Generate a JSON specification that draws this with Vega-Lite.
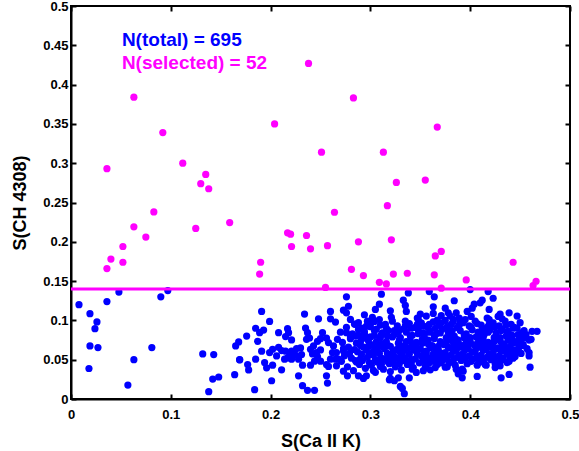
{
"$schema":"https://vega.github.io/schema/vega-lite/v6.json",
"width":499,"height":393,
"autosize":{"type":"none"},
"padding":{"left":71,"top":6,"right":9,"bottom":52},
"background":"white",
"config":{
 "view":{"stroke":"black","strokeWidth":2},
 "axis":{"domainColor":"black","domainWidth":2,"tickColor":"black","tickWidth":2,"tickSize":-5,"grid":false,"labelFont":"Liberation Sans","labelFontWeight":"bold","labelFontSize":13,"labelColor":"black","titleFont":"Liberation Sans","titleFontWeight":"bold","titleFontSize":18,"titleColor":"black","labelFlush":false,"labelOverlap":false,"format":"~g"}
},
"datasets":{
"total":[
{"x":0.008,"y":0.120},{"x":0.019,"y":0.1085},{"x":0.026,"y":0.098},{"x":0.024,"y":0.0895},{"x":0.019,"y":0.0675},{"x":0.027,"y":0.0654},{"x":0.018,"y":0.0388},{"x":0.036,"y":0.124},{"x":0.048,"y":0.136},{"x":0.063,"y":0.050},{"x":0.057,"y":0.0177},{"x":0.081,"y":0.0654},{"x":0.090,"y":0.130},{"x":0.097,"y":0.138},{"x":0.132,"y":0.0574},{"x":0.143,"y":0.0565},{"x":0.142,"y":0.0253},{"x":0.148,"y":0.028},{"x":0.138,"y":0.0093},{"x":0.164,"y":0.031},{"x":0.165,"y":0.0675},{"x":0.168,"y":0.0726},{"x":0.169,"y":0.050},{"x":0.176,"y":0.080},{"x":0.177,"y":0.0439},{"x":0.178,"y":0.037},{"x":0.184,"y":0.0118},{"x":0.185,"y":0.090},
{"x":0.191,"y":0.1114},{"x":0.199,"y":0.0987},{"x":0.193,"y":0.0877},{"x":0.189,"y":0.0844},{"x":0.187,"y":0.0734},{"x":0.208,"y":0.0844},{"x":0.217,"y":0.0895},{"x":0.218,"y":0.0844},{"x":0.215,"y":0.0794},{"x":0.221,"y":0.0751},{"x":0.234,"y":0.108},{"x":0.248,"y":0.102},{"x":0.260,"y":0.1114},{"x":0.260,"y":0.102},{"x":0.265,"y":0.0979},{"x":0.235,"y":0.0903},{"x":0.237,"y":0.0844},{"x":0.239,"y":0.0776},{"x":0.236,"y":0.0759},{"x":0.252,"y":0.0844},{"x":0.250,"y":0.0768},{"x":0.247,"y":0.0734},{"x":0.256,"y":0.0776},{"x":0.258,"y":0.0718},{"x":0.202,"y":0.0633},{"x":0.199,"y":0.0591},{"x":0.208,"y":0.0658},{"x":0.211,"y":0.0616},{"x":0.206,"y":0.0548},{"x":0.191,"y":0.0608},{"x":0.169,"y":0.0498},{"x":0.185,"y":0.0506},{"x":0.194,"y":0.0464},{"x":0.196,"y":0.0396},{"x":0.202,"y":0.043},{"x":0.211,"y":0.0371},
{"x":0.214,"y":0.0506},{"x":0.217,"y":0.0523},{"x":0.221,"y":0.0506},{"x":0.225,"y":0.0557},{"x":0.228,"y":0.0506},{"x":0.231,"y":0.0565},{"x":0.230,"y":0.065},{"x":0.226,"y":0.0642},{"x":0.221,"y":0.0608},{"x":0.219,"y":0.0582},{"x":0.215,"y":0.0608},
{"x":0.232,"y":0.043},{"x":0.240,"y":0.043},{"x":0.228,"y":0.0295},{"x":0.232,"y":0.0169},{"x":0.237,"y":0.011},{"x":0.244,"y":0.011},{"x":0.201,"y":0.0232},
{"x":0.247,"y":0.054},{"x":0.244,"y":0.0481},{"x":0.250,"y":0.0481},{"x":0.256,"y":0.0439},{"x":0.260,"y":0.0506},{"x":0.258,"y":0.0414},{"x":0.256,"y":0.0295},{"x":0.257,"y":0.0203},
{"x":0.240,"y":0.0633},{"x":0.243,"y":0.0675},{"x":0.246,"y":0.0591},{"x":0.250,"y":0.0624},{"x":0.242,"y":0.0574},
{"x":0.263,"y":0.0675},{"x":0.266,"y":0.0591},{"x":0.265,"y":0.0506},{"x":0.267,"y":0.0759},{"x":0.266,"y":0.0422},
{"x":0.276,"y":0.130},{"x":0.311,"y":0.1333},{"x":0.338,"y":0.135},{"x":0.359,"y":0.1367},{"x":0.273,"y":0.113},{"x":0.276,"y":0.1097},{"x":0.278,"y":0.118},{"x":0.294,"y":0.1072},{"x":0.305,"y":0.1139},{"x":0.309,"y":0.1206},{"x":0.320,"y":0.1122},{"x":0.333,"y":0.1257},{"x":0.335,"y":0.119},{"x":0.336,"y":0.1114},{"x":0.350,"y":0.108},{"x":0.348,"y":0.1013},{"x":0.356,"y":0.1055},{"x":0.363,"y":0.1089},{"x":0.367,"y":0.1004},{"x":0.353,"y":0.0928},{"x":0.302,"y":0.1038},{"x":0.304,"y":0.0987},{"x":0.300,"y":0.0962},{"x":0.296,"y":0.0928},{"x":0.280,"y":0.1013},{"x":0.284,"y":0.0953},{"x":0.288,"y":0.0971},{"x":0.291,"y":0.0903},{"x":0.262,"y":0.0591},{"x":0.268,"y":0.0506},{"x":0.273,"y":0.0642},{"x":0.276,"y":0.0844},{"x":0.280,"y":0.0768},{"x":0.285,"y":0.0801},{"x":0.290,"y":0.0726},{"x":0.294,"y":0.0801},
{"x":0.273,"y":0.0354},{"x":0.277,"y":0.0295},{"x":0.288,"y":0.0295},{"x":0.293,"y":0.0262},{"x":0.296,"y":0.0295},{"x":0.303,"y":0.0363},{"x":0.310,"y":0.0414},{"x":0.320,"y":0.0262},{"x":0.328,"y":0.027},{"x":0.339,"y":0.027},{"x":0.330,"y":0.016},{"x":0.334,"y":0.0068},{"x":0.342,"y":0.038},{"x":0.346,"y":0.0338},{"x":0.356,"y":0.0397},{"x":0.360,"y":0.0371},{"x":0.366,"y":0.0464},{"x":0.319,"y":0.0244},{"x":0.324,"y":0.0232},{"x":0.332,"y":0.0135},
{"x":0.400,"y":0.1392},{"x":0.418,"y":0.1367},{"x":0.364,"y":0.130},{"x":0.384,"y":0.125},{"x":0.363,"y":0.1173},{"x":0.375,"y":0.1156},{"x":0.378,"y":0.1097},{"x":0.404,"y":0.1206},{"x":0.402,"y":0.1156},{"x":0.397,"y":0.1114},{"x":0.412,"y":0.1257},{"x":0.410,"y":0.1223},{"x":0.423,"y":0.1282},{"x":0.419,"y":0.1139},{"x":0.430,"y":0.108},{"x":0.439,"y":0.1097},{"x":0.447,"y":0.1055},{"x":0.432,"y":0.1021},{"x":0.380,"y":0.1055},{"x":0.383,"y":0.1013},{"x":0.386,"y":0.1097},{"x":0.390,"y":0.0971},{"x":0.417,"y":0.1029},{"x":0.450,"y":0.0971},{"x":0.447,"y":0.0903},{"x":0.452,"y":0.0844},{"x":0.455,"y":0.0776},{"x":0.462,"y":0.0861},{"x":0.467,"y":0.0861},{"x":0.461,"y":0.0759},{"x":0.459,"y":0.0591},{"x":0.459,"y":0.0548},{"x":0.460,"y":0.0405},{"x":0.440,"y":0.0523},{"x":0.437,"y":0.0464},{"x":0.441,"y":0.0591},{"x":0.439,"y":0.0312},{"x":0.431,"y":0.027},{"x":0.407,"y":0.0287},{"x":0.386,"y":0.038},{"x":0.388,"y":0.032},{"x":0.392,"y":0.027},{"x":0.393,"y":0.0354},{"x":0.375,"y":0.0405},{"x":0.410,"y":0.0473},{"x":0.416,"y":0.043},{"x":0.425,"y":0.0447},{"x":0.430,"y":0.0422},{"x":0.362,"y":0.0515},{"x":0.366,"y":0.0574},{"x":0.453,"y":0.0692},{"x":0.449,"y":0.080},
{"x":0.271,"y":0.048},{"x":0.273,"y":0.061},{"x":0.272,"y":0.072},{"x":0.270,"y":0.085},{"x":0.274,"y":0.055},
{"x":0.277,"y":0.041},{"x":0.279,"y":0.058},{"x":0.278,"y":0.066},{"x":0.280,"y":0.079},{"x":0.276,"y":0.091},{"x":0.281,"y":0.052},
{"x":0.283,"y":0.036},{"x":0.285,"y":0.049},{"x":0.284,"y":0.063},{"x":0.286,"y":0.071},{"x":0.282,"y":0.083},{"x":0.285,"y":0.095},
{"x":0.289,"y":0.044},{"x":0.291,"y":0.057},{"x":0.290,"y":0.068},{"x":0.292,"y":0.077},{"x":0.288,"y":0.088},{"x":0.290,"y":0.051},
{"x":0.295,"y":0.039},{"x":0.297,"y":0.053},{"x":0.296,"y":0.062},{"x":0.298,"y":0.074},{"x":0.294,"y":0.086},{"x":0.297,"y":0.099},{"x":0.299,"y":0.046},
{"x":0.301,"y":0.043},{"x":0.303,"y":0.056},{"x":0.302,"y":0.069},{"x":0.304,"y":0.081},{"x":0.300,"y":0.092},{"x":0.303,"y":0.061},{"x":0.305,"y":0.034},
{"x":0.307,"y":0.047},{"x":0.309,"y":0.058},{"x":0.308,"y":0.066},{"x":0.310,"y":0.078},{"x":0.306,"y":0.089},{"x":0.309,"y":0.101},{"x":0.311,"y":0.052},
{"x":0.313,"y":0.038},{"x":0.315,"y":0.051},{"x":0.314,"y":0.064},{"x":0.316,"y":0.073},{"x":0.312,"y":0.084},{"x":0.315,"y":0.095},{"x":0.317,"y":0.058},
{"x":0.319,"y":0.045},{"x":0.321,"y":0.054},{"x":0.320,"y":0.067},{"x":0.322,"y":0.079},{"x":0.318,"y":0.087},{"x":0.321,"y":0.104},{"x":0.323,"y":0.061},{"x":0.320,"y":0.035},
{"x":0.325,"y":0.041},{"x":0.327,"y":0.052},{"x":0.326,"y":0.063},{"x":0.328,"y":0.071},{"x":0.324,"y":0.082},{"x":0.327,"y":0.093},{"x":0.329,"y":0.075},
{"x":0.331,"y":0.037},{"x":0.333,"y":0.049},{"x":0.332,"y":0.059},{"x":0.334,"y":0.068},{"x":0.330,"y":0.078},{"x":0.333,"y":0.089},{"x":0.335,"y":0.099},{"x":0.332,"y":0.055},
{"x":0.337,"y":0.044},{"x":0.339,"y":0.057},{"x":0.338,"y":0.065},{"x":0.340,"y":0.074},{"x":0.336,"y":0.085},{"x":0.339,"y":0.096},{"x":0.341,"y":0.050},
{"x":0.343,"y":0.040},{"x":0.345,"y":0.051},{"x":0.344,"y":0.062},{"x":0.346,"y":0.072},{"x":0.342,"y":0.081},{"x":0.345,"y":0.091},{"x":0.347,"y":0.103},{"x":0.344,"y":0.067},
{"x":0.349,"y":0.046},{"x":0.351,"y":0.055},{"x":0.350,"y":0.064},{"x":0.352,"y":0.076},{"x":0.348,"y":0.088},{"x":0.351,"y":0.097},{"x":0.353,"y":0.036},
{"x":0.355,"y":0.042},{"x":0.357,"y":0.053},{"x":0.356,"y":0.061},{"x":0.358,"y":0.070},{"x":0.354,"y":0.080},{"x":0.357,"y":0.092},{"x":0.359,"y":0.085},{"x":0.356,"y":0.058},
{"x":0.361,"y":0.048},{"x":0.363,"y":0.057},{"x":0.362,"y":0.068},{"x":0.364,"y":0.077},{"x":0.360,"y":0.087},{"x":0.363,"y":0.098},{"x":0.365,"y":0.040},
{"x":0.367,"y":0.044},{"x":0.369,"y":0.052},{"x":0.368,"y":0.063},{"x":0.370,"y":0.073},{"x":0.366,"y":0.083},{"x":0.369,"y":0.094},{"x":0.371,"y":0.106},{"x":0.368,"y":0.067},
{"x":0.373,"y":0.050},{"x":0.375,"y":0.059},{"x":0.374,"y":0.069},{"x":0.376,"y":0.078},{"x":0.372,"y":0.089},{"x":0.375,"y":0.100},{"x":0.377,"y":0.041},
{"x":0.379,"y":0.046},{"x":0.381,"y":0.056},{"x":0.380,"y":0.065},{"x":0.382,"y":0.074},{"x":0.378,"y":0.085},{"x":0.381,"y":0.095},{"x":0.383,"y":0.061},{"x":0.380,"y":0.081},
{"x":0.385,"y":0.043},{"x":0.387,"y":0.053},{"x":0.386,"y":0.062},{"x":0.388,"y":0.071},{"x":0.384,"y":0.080},{"x":0.387,"y":0.091},{"x":0.389,"y":0.103},{"x":0.386,"y":0.076},
{"x":0.391,"y":0.049},{"x":0.393,"y":0.058},{"x":0.392,"y":0.068},{"x":0.394,"y":0.078},{"x":0.390,"y":0.087},{"x":0.393,"y":0.097},{"x":0.395,"y":0.063},{"x":0.392,"y":0.038},
{"x":0.397,"y":0.045},{"x":0.399,"y":0.055},{"x":0.398,"y":0.064},{"x":0.400,"y":0.073},{"x":0.396,"y":0.083},{"x":0.399,"y":0.093},{"x":0.401,"y":0.105},{"x":0.398,"y":0.070},
{"x":0.403,"y":0.051},{"x":0.405,"y":0.060},{"x":0.404,"y":0.069},{"x":0.406,"y":0.079},{"x":0.402,"y":0.088},{"x":0.405,"y":0.099},{"x":0.407,"y":0.043},
{"x":0.409,"y":0.047},{"x":0.411,"y":0.056},{"x":0.410,"y":0.066},{"x":0.412,"y":0.075},{"x":0.408,"y":0.085},{"x":0.411,"y":0.094},{"x":0.413,"y":0.062},{"x":0.410,"y":0.081},
{"x":0.415,"y":0.044},{"x":0.417,"y":0.053},{"x":0.416,"y":0.063},{"x":0.418,"y":0.072},{"x":0.414,"y":0.082},{"x":0.417,"y":0.091},{"x":0.419,"y":0.101},{"x":0.416,"y":0.068},
{"x":0.421,"y":0.050},{"x":0.423,"y":0.059},{"x":0.422,"y":0.069},{"x":0.424,"y":0.078},{"x":0.420,"y":0.088},{"x":0.423,"y":0.097},{"x":0.425,"y":0.040},
{"x":0.427,"y":0.046},{"x":0.429,"y":0.055},{"x":0.428,"y":0.065},{"x":0.430,"y":0.074},{"x":0.426,"y":0.084},{"x":0.429,"y":0.093},{"x":0.431,"y":0.061},{"x":0.428,"y":0.105},
{"x":0.433,"y":0.052},{"x":0.435,"y":0.061},{"x":0.434,"y":0.070},{"x":0.436,"y":0.080},{"x":0.432,"y":0.089},{"x":0.435,"y":0.099},{"x":0.437,"y":0.057},
{"x":0.439,"y":0.048},{"x":0.441,"y":0.058},{"x":0.440,"y":0.067},{"x":0.442,"y":0.076},{"x":0.438,"y":0.086},{"x":0.441,"y":0.095},{"x":0.443,"y":0.071},
{"x":0.445,"y":0.054},{"x":0.447,"y":0.063},{"x":0.446,"y":0.073},{"x":0.448,"y":0.082},{"x":0.444,"y":0.091},{"x":0.447,"y":0.060},
{"x":0.451,"y":0.058},{"x":0.453,"y":0.068},{"x":0.452,"y":0.078},{"x":0.454,"y":0.087},{"x":0.450,"y":0.072},
{"x":0.457,"y":0.064},{"x":0.459,"y":0.075},{"x":0.456,"y":0.082},
{"x":0.287,"y":0.060},{"x":0.288,"y":0.081},{"x":0.286,"y":0.047},
{"x":0.293,"y":0.066},{"x":0.294,"y":0.083},{"x":0.292,"y":0.049},
{"x":0.299,"y":0.057},{"x":0.300,"y":0.079},{"x":0.298,"y":0.067},
{"x":0.305,"y":0.050},{"x":0.306,"y":0.073},{"x":0.304,"y":0.087},{"x":0.305,"y":0.063},
{"x":0.311,"y":0.044},{"x":0.312,"y":0.070},{"x":0.310,"y":0.094},{"x":0.311,"y":0.082},
{"x":0.317,"y":0.048},{"x":0.318,"y":0.068},{"x":0.316,"y":0.090},{"x":0.317,"y":0.080},
{"x":0.323,"y":0.047},{"x":0.324,"y":0.087},{"x":0.322,"y":0.099},{"x":0.323,"y":0.057},
{"x":0.329,"y":0.045},{"x":0.330,"y":0.059},{"x":0.328,"y":0.085},{"x":0.329,"y":0.067},
{"x":0.335,"y":0.052},{"x":0.336,"y":0.073},{"x":0.334,"y":0.062},{"x":0.335,"y":0.093},
{"x":0.341,"y":0.046},{"x":0.342,"y":0.068},{"x":0.340,"y":0.080},{"x":0.341,"y":0.090},
{"x":0.347,"y":0.058},{"x":0.348,"y":0.083},{"x":0.346,"y":0.070},{"x":0.347,"y":0.095},
{"x":0.353,"y":0.049},{"x":0.354,"y":0.060},{"x":0.352,"y":0.071},{"x":0.353,"y":0.084},
{"x":0.359,"y":0.046},{"x":0.360,"y":0.065},{"x":0.358,"y":0.075},{"x":0.359,"y":0.095},
{"x":0.365,"y":0.054},{"x":0.366,"y":0.062},{"x":0.364,"y":0.080},{"x":0.365,"y":0.090},
{"x":0.371,"y":0.046},{"x":0.372,"y":0.058},{"x":0.370,"y":0.084},{"x":0.371,"y":0.097},
{"x":0.377,"y":0.053},{"x":0.378,"y":0.066},{"x":0.376,"y":0.072},{"x":0.377,"y":0.092},
{"x":0.383,"y":0.049},{"x":0.384,"y":0.069},{"x":0.382,"y":0.087},{"x":0.383,"y":0.099},
{"x":0.389,"y":0.056},{"x":0.390,"y":0.066},{"x":0.388,"y":0.075},{"x":0.389,"y":0.094},
{"x":0.395,"y":0.052},{"x":0.396,"y":0.072},{"x":0.394,"y":0.082},{"x":0.395,"y":0.101},
{"x":0.401,"y":0.048},{"x":0.402,"y":0.060},{"x":0.400,"y":0.078},{"x":0.401,"y":0.091},
{"x":0.407,"y":0.054},{"x":0.408,"y":0.072},{"x":0.406,"y":0.065},{"x":0.407,"y":0.096},
{"x":0.413,"y":0.050},{"x":0.414,"y":0.070},{"x":0.412,"y":0.088},{"x":0.413,"y":0.078},
{"x":0.419,"y":0.057},{"x":0.420,"y":0.066},{"x":0.418,"y":0.085},{"x":0.419,"y":0.095},
{"x":0.425,"y":0.053},{"x":0.426,"y":0.064},{"x":0.424,"y":0.073},{"x":0.425,"y":0.092},
{"x":0.431,"y":0.049},{"x":0.432,"y":0.068},{"x":0.430,"y":0.078},{"x":0.431,"y":0.087},
{"x":0.437,"y":0.064},{"x":0.438,"y":0.075},{"x":0.436,"y":0.094},{"x":0.437,"y":0.085},
{"x":0.443,"y":0.052},{"x":0.444,"y":0.062},{"x":0.442,"y":0.081},{"x":0.443,"y":0.090},
{"x":0.449,"y":0.066},{"x":0.450,"y":0.076},{"x":0.448,"y":0.062}
],
"selected":[
{"x":0.036,"y":0.293},{"x":0.063,"y":0.384},{"x":0.092,"y":0.339},{"x":0.112,"y":0.300},{"x":0.135,"y":0.2857},{"x":0.130,"y":0.274},{"x":0.138,"y":0.2675},{"x":0.204,"y":0.350},{"x":0.238,"y":0.427},{"x":0.251,"y":0.314},{"x":0.283,"y":0.383},{"x":0.367,"y":0.346},{"x":0.313,"y":0.314},{"x":0.326,"y":0.2755},{"x":0.355,"y":0.2785},
{"x":0.036,"y":0.166},{"x":0.040,"y":0.178},{"x":0.052,"y":0.174},{"x":0.052,"y":0.194},{"x":0.063,"y":0.219},{"x":0.075,"y":0.206},{"x":0.083,"y":0.238},{"x":0.125,"y":0.217},{"x":0.159,"y":0.2245},{"x":0.189,"y":0.159},{"x":0.190,"y":0.174},{"x":0.217,"y":0.2114},{"x":0.220,"y":0.2097},{"x":0.221,"y":0.194},{"x":0.236,"y":0.208},{"x":0.240,"y":0.191},{"x":0.257,"y":0.195},{"x":0.264,"y":0.2376},{"x":0.288,"y":0.200},{"x":0.317,"y":0.246},{"x":0.321,"y":0.2025},{"x":0.281,"y":0.165},{"x":0.293,"y":0.157},{"x":0.309,"y":0.1485},{"x":0.316,"y":0.1464},{"x":0.323,"y":0.159},{"x":0.337,"y":0.160},{"x":0.255,"y":0.142},{"x":0.365,"y":0.182},{"x":0.371,"y":0.1877},{"x":0.364,"y":0.158},{"x":0.371,"y":0.141},{"x":0.396,"y":0.1515},{"x":0.443,"y":0.174},{"x":0.463,"y":0.1443},{"x":0.466,"y":0.1498}
],
"cut":[{"level":0.14}],
"notes":[{"label":"N(total) = 695"},{"label":"N(selected) = 52"}]
},
"layer":[
{"data":{"name":"total"},"mark":{"type":"circle","size":52,"opacity":1,"color":"#0000ff"},
 "encoding":{
  "x":{"field":"x","type":"quantitative","scale":{"domain":[0,0.5],"nice":false,"zero":false},"axis":{"orient":"bottom","values":[0,0.1,0.2,0.3,0.4,0.5],"title":"S(Ca II K)","labelPadding":14,"titlePadding":11}},
  "y":{"field":"y","type":"quantitative","scale":{"domain":[0,0.5],"nice":false,"zero":false},"axis":{"orient":"left","values":[0,0.05,0.1,0.15,0.2,0.25,0.3,0.35,0.4,0.45,0.5],"title":"S(CH 4308)","labelPadding":8,"titlePadding":13}}}},
{"data":{"name":"selected"},"mark":{"type":"circle","size":52,"opacity":1,"color":"#ff00ff"},
 "encoding":{
  "x":{"field":"x","type":"quantitative","axis":{"orient":"top","values":[0,0.1,0.2,0.3,0.4,0.5],"labels":false,"title":null,"domain":false}},
  "y":{"field":"y","type":"quantitative","axis":{"orient":"right","values":[0,0.05,0.1,0.15,0.2,0.25,0.3,0.35,0.4,0.45,0.5],"labels":false,"title":null,"domain":false}}}},
{"data":{"name":"cut"},"mark":{"type":"rule","color":"#ff00ff","strokeWidth":3},
 "encoding":{"y":{"field":"level","type":"quantitative","axis":null}}},
{"data":{"name":"notes"},"transform":[{"filter":"datum.label == 'N(total) = 695'"}],
 "mark":{"type":"text","align":"left","baseline":"alphabetic","font":"Liberation Sans","fontWeight":"bold","fontSize":19,"color":"#0000ff"},
 "encoding":{"x":{"datum":0.051,"type":"quantitative","axis":null},"y":{"datum":0.449,"type":"quantitative","axis":null},"text":{"field":"label"}}},
{"data":{"name":"notes"},"transform":[{"filter":"datum.label == 'N(selected) = 52'"}],
 "mark":{"type":"text","align":"left","baseline":"alphabetic","font":"Liberation Sans","fontWeight":"bold","fontSize":19,"color":"#ff00ff"},
 "encoding":{"x":{"datum":0.051,"type":"quantitative","axis":null},"y":{"datum":0.42,"type":"quantitative","axis":null},"text":{"field":"label"}}}
],
"resolve":{"axis":{"x":"independent","y":"independent"}}
}
